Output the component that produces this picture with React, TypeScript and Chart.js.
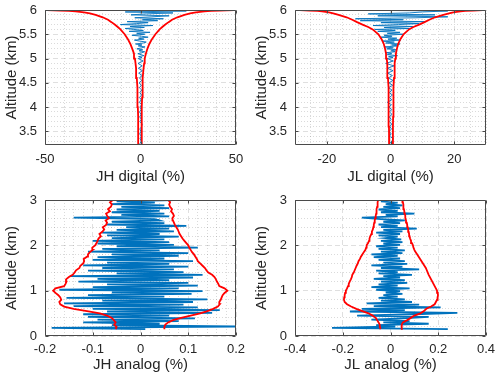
import React, { useEffect, useRef } from "react";
import { Chart, registerables } from "chart.js";

Chart.register(...registerables);

// ---------- Data ----------
// Altitude grid (km) for the digital channels (upper panels)
const ALT_HIGH = [
  3.2, 3.25, 3.3, 3.35, 3.4, 3.45, 3.5, 3.55, 3.6, 3.65,
  3.7, 3.75, 3.8, 3.85, 3.9, 3.95, 4.0, 4.05, 4.1, 4.15,
  4.2, 4.25, 4.3, 4.35, 4.4, 4.45, 4.5, 4.55, 4.6, 4.65,
  4.7, 4.75, 4.8, 4.85, 4.9, 4.95, 5.0,
  5.02, 5.04, 5.06, 5.08, 5.1, 5.12, 5.14, 5.16, 5.18, 5.2,
  5.22, 5.24, 5.26, 5.28, 5.3, 5.32, 5.34, 5.36, 5.38, 5.4,
  5.42, 5.44, 5.46, 5.48, 5.5, 5.52, 5.54, 5.56, 5.58, 5.6,
  5.62, 5.64, 5.66, 5.68, 5.7, 5.72, 5.74, 5.76, 5.78, 5.8,
  5.82, 5.84, 5.86, 5.88, 5.9, 5.92, 5.94, 5.96, 5.98, 6.0,
];

const JH_DIGITAL = [
  0.2, -0.3, 0.4, -0.2, 0.3, -0.4, 0.2, -0.3, 0.5, 0.9,
  -0.3, 0.4, -0.4, 0.3, -0.5, 0.4, -0.3, 0.5, -0.6, 0.4,
  -0.5, 0.6, -0.4, 0.7, -0.6, 0.5, -0.8, 0.7, -0.6, 0.9,
  -0.9, 1.0, -1.1, 0.9, -1.3, 1.4, -1.2,
  0.8, -1.0, 1.8, 0.3, -1.4, 0.6, 2.2, -0.8, 1.2, -1.9,
  0.5, 2.4, -1.2, 0.8, -2.6, 1.5, 3.0, -0.5, -3.2, 1.8,
  -1.0, 4.0, 0.6, -4.5, 2.2, -2.0, 5.0, -6.0, 1.5, -3.5,
  -8.0, 2.0, -5.5, 6.5, -10.5, -2.0, 4.0, -7.0, 9.0, 1.0,
  12.0, -3.0, 6.0, 15.0, -5.0, 3.0, 17.0, -8.0, 24.0, -10.0,
];

const JL_DIGITAL = [
  0.3, -0.2, 0.4, 0.9, -0.3, 0.2, -0.4, 0.3, -0.2, 0.4,
  -0.3, 0.2, -0.4, 0.5, -0.3, 0.4, -0.5, 0.3, -1.0, 0.4,
  -0.3, 0.6, -0.4, 0.5, -0.6, 0.7, -0.5, 0.8, -0.7, 0.6,
  -0.9, 0.8, -1.0, 1.1, -1.5, 0.9, -1.1,
  0.8, -0.6, 2.2, -1.0, 0.4, -1.4, 1.5, 0.2, 2.0, -1.2,
  0.9, -1.8, 2.4, 0.3, 3.0, -1.5, 1.2, -2.4, 3.2, -0.8,
  2.0, -3.0, 0.5, -2.0, 4.0, -1.0, 3.0, -4.0, 1.5, -5.0,
  6.0, -2.0, 7.0, -5.5, 2.5, 9.0, -3.0, 11.0, -9.5, 4.0,
  -11.0, 8.0, 18.0, -4.0, 14.0, -7.0, 6.0, 10.0, 18.0, -17.0,
];

// Envelope (red) altitudes for the digital channels
const ENV_ALT_HIGH = [
  3.2, 3.4, 3.6, 3.8, 4.0, 4.2, 4.4, 4.6, 4.8, 4.9,
  5.0, 5.1, 5.2, 5.3, 5.4, 5.5, 5.6, 5.65, 5.7, 5.75,
  5.8, 5.85, 5.9, 5.93, 5.95, 5.97, 5.98, 5.99, 6.0,
];
const JH_DIGITAL_LOW = [
  -1.1, -1.15, -1.2, -1.3, -1.4, -1.5, -1.7, -1.95, -2.3, -2.6,
  -2.9, -3.4, -4.3, -5.3, -6.6, -8.3, -10.5, -11.9, -13.5, -15.2,
  -17.0, -19.8, -23.5, -26.5, -29.5, -34.0, -37.5, -42.0, -49.0,
];
const JH_DIGITAL_UP = [
  0.55, 0.58, 0.62, 0.68, 0.75, 0.85, 1.0, 1.25, 1.6, 1.9,
  2.2, 2.8, 3.6, 4.6, 6.0, 7.8, 10.0, 11.4, 13.0, 14.7,
  16.5, 19.3, 23.0, 26.0, 29.0, 33.5, 37.0, 41.5, 49.0,
];
const JL_DIGITAL_LOW = [
  -0.42, -0.45, -0.48, -0.52, -0.56, -0.62, -0.7, -0.8, -0.95, -1.05,
  -1.2, -1.4, -1.7, -2.1, -2.8, -3.8, -5.6, -7.0, -8.8, -10.5,
  -12.0, -13.8, -16.3, -18.0, -19.3, -21.5, -23.0, -25.5, -28.5,
];
const JL_DIGITAL_UP = [
  0.72, 0.75, 0.78, 0.82, 0.86, 0.92, 1.0, 1.1, 1.25, 1.35,
  1.5, 1.7, 2.0, 2.4, 3.1, 4.1, 5.8, 7.2, 9.0, 10.7,
  12.2, 14.0, 16.6, 18.4, 19.7, 22.0, 23.5, 26.0, 29.0,
];

// Altitude grid (km) for the analog channels (lower panels)
const ALT_LOW = [
  0.15, 0.18, 0.21, 0.24, 0.27, 0.3, 0.33, 0.36, 0.39, 0.42,
  0.45, 0.48, 0.51, 0.54, 0.57, 0.6, 0.63, 0.66, 0.69, 0.72,
  0.75, 0.78, 0.81, 0.84, 0.87, 0.9, 0.93, 0.96, 0.99, 1.02,
  1.05, 1.08, 1.11, 1.14, 1.17, 1.2, 1.23, 1.26, 1.29, 1.32,
  1.35, 1.38, 1.41, 1.44, 1.47, 1.5, 1.53, 1.56, 1.59, 1.62,
  1.65, 1.68, 1.71, 1.74, 1.77, 1.8, 1.83, 1.86, 1.89, 1.92,
  1.95, 1.98, 2.01, 2.04, 2.07, 2.1, 2.13, 2.16, 2.19, 2.22,
  2.25, 2.28, 2.31, 2.34, 2.37, 2.4, 2.43, 2.46, 2.49, 2.52,
  2.55, 2.58, 2.61, 2.64, 2.67, 2.7, 2.73, 2.76, 2.79, 2.82,
  2.85, 2.88, 2.91, 2.94, 2.97, 3.0,
];

const JH_ANALOG = [
  0.01, -0.186, 0.198, -0.06, 0.04, -0.12, 0.08, -0.09, 0.114, -0.11,
  0.06, -0.12, 0.15, -0.07, 0.166, -0.1, 0.12, -0.14, 0.09, -0.16,
  0.11, -0.08, 0.14, -0.155, 0.05, -0.11, 0.107, -0.06, 0.13, -0.17,
  0.08, -0.1, 0.12, -0.07, 0.1, -0.13, 0.06, -0.09, 0.11, -0.148,
  0.13, -0.05, 0.09, -0.11, 0.07, -0.08, 0.1, -0.12, 0.06, -0.07,
  0.11, -0.1, 0.05, -0.09, 0.08, -0.06, 0.1, -0.11, 0.04, -0.08,
  0.12, -0.05, 0.07, -0.09, 0.06, -0.1, 0.05, -0.06, 0.08, -0.07,
  0.04, -0.08, 0.07, -0.05, 0.06, -0.03, 0.096, -0.07, 0.05, -0.06,
  0.04, 0.03, -0.14, 0.06, -0.04, 0.05, -0.06, 0.04, -0.05, 0.06,
  -0.04, 0.05, -0.06, 0.03, -0.05, 0.07,
];

const JL_ANALOG = [
  0.24, -0.245, 0.02, -0.06, 0.16, -0.03, 0.08, -0.08, 0.05, 0.16,
  -0.14, 0.1, 0.28, -0.17, 0.06, -0.12, 0.21, -0.07, 0.12, -0.1,
  0.09, -0.04, 0.06, -0.05, 0.03, -0.03, 0.05, -0.02, 0.04, -0.06,
  0.08, -0.08, 0.03, -0.05, 0.07, -0.04, 0.06, -0.07, 0.04, -0.03,
  0.09, -0.05, 0.03, -0.06, 0.12, -0.04, 0.05, -0.08, 0.07, -0.03,
  0.06, -0.05, 0.04, -0.07, 0.03, -0.08, 0.05, -0.04, 0.06, -0.05,
  0.03, -0.06, 0.04, -0.03, 0.05, -0.04, 0.045, -0.02, 0.03, -0.05,
  0.04, -0.06, 0.05, -0.03, 0.11, -0.04, 0.03, -0.05, 0.04, -0.03,
  0.06, -0.04, -0.12, 0.03, -0.02, 0.1, -0.04, 0.03, -0.05, 0.04,
  -0.03, 0.05, -0.02, 0.03, -0.04, 0.02,
];

// Envelope (red) altitudes for the analog channels
const ENV_ALT_LOW = [
  0.15, 0.2, 0.25, 0.3, 0.35, 0.4, 0.45, 0.5, 0.55, 0.6,
  0.65, 0.7, 0.75, 0.8, 0.85, 0.9, 0.95, 1.0, 1.05, 1.1,
  1.15, 1.2, 1.25, 1.3, 1.35, 1.4, 1.45, 1.5, 1.55, 1.6,
  1.65, 1.7, 1.75, 1.8, 1.85, 1.9, 1.95, 2.0, 2.05, 2.1,
  2.15, 2.2, 2.25, 2.3, 2.35, 2.4, 2.45, 2.5, 2.55, 2.6,
  2.65, 2.7, 2.75, 2.8, 2.85, 2.9, 2.95, 3.0,
];
const JH_ANALOG_LOW = [
  -0.052, -0.05, -0.055, -0.052, -0.056, -0.06, -0.07, -0.085, -0.112, -0.14,
  -0.16, -0.168, -0.17, -0.166, -0.168, -0.172, -0.178, -0.183, -0.178, -0.16,
  -0.157, -0.155, -0.156, -0.15, -0.142, -0.138, -0.135, -0.128, -0.126, -0.12,
  -0.118, -0.119, -0.112, -0.11, -0.106, -0.1, -0.101, -0.095, -0.092, -0.09,
  -0.088, -0.083, -0.086, -0.08, -0.076, -0.079, -0.072, -0.07, -0.073, -0.066,
  -0.07, -0.072, -0.064, -0.068, -0.062, -0.06, -0.064, -0.058,
];
const JH_ANALOG_UP = [
  0.05, 0.05, 0.052, 0.058, 0.068, 0.085, 0.105, 0.125, 0.14, 0.152,
  0.162, 0.166, 0.165, 0.168, 0.17, 0.172, 0.176, 0.182, 0.176, 0.165,
  0.163, 0.16, 0.158, 0.155, 0.15, 0.142, 0.138, 0.135, 0.13, 0.125,
  0.12, 0.118, 0.115, 0.112, 0.108, 0.105, 0.102, 0.1, 0.096, 0.092,
  0.088, 0.085, 0.082, 0.08, 0.078, 0.075, 0.072, 0.07, 0.068, 0.067,
  0.07, 0.068, 0.064, 0.066, 0.062, 0.06, 0.062, 0.058,
];
const JL_ANALOG_LOW = [
  -0.042, -0.044, -0.045, -0.05, -0.056, -0.062, -0.075, -0.092, -0.118, -0.143,
  -0.165, -0.182, -0.192, -0.195, -0.194, -0.192, -0.19, -0.187, -0.182, -0.178,
  -0.175, -0.171, -0.166, -0.162, -0.16, -0.154, -0.15, -0.146, -0.142, -0.137,
  -0.134, -0.128, -0.124, -0.118, -0.112, -0.105, -0.102, -0.1, -0.094, -0.09,
  -0.088, -0.085, -0.08, -0.078, -0.074, -0.072, -0.07, -0.068, -0.066, -0.064,
  -0.062, -0.06, -0.059, -0.058, -0.056, -0.055, -0.053, -0.052,
];
const JL_ANALOG_UP = [
  0.045, 0.046, 0.048, 0.052, 0.07, 0.085, 0.1, 0.125, 0.14, 0.15,
  0.17, 0.185, 0.19, 0.195, 0.197, 0.199, 0.198, 0.195, 0.19, 0.185,
  0.18, 0.175, 0.17, 0.165, 0.16, 0.156, 0.152, 0.148, 0.142, 0.136,
  0.13, 0.124, 0.118, 0.112, 0.105, 0.1, 0.096, 0.094, 0.09, 0.086,
  0.082, 0.08, 0.078, 0.076, 0.074, 0.072, 0.07, 0.068, 0.065, 0.062,
  0.062, 0.06, 0.058, 0.056, 0.055, 0.053, 0.052, 0.05,
];

// Tick labels / axis ranges
const X_TICKS_JH_DIGITAL = [-50, 0, 50];
const X_TICKS_JL_DIGITAL = [-20, 0, 20];
const X_TICKS_JH_ANALOG = [-0.2, -0.1, 0, 0.1, 0.2];
const X_TICKS_JL_ANALOG = [-0.4, -0.2, 0, 0.2, 0.4];
const Y_TICKS_HIGH = [3.5, 4, 4.5, 5, 5.5, 6];
const Y_TICKS_LOW = [0, 1, 2, 3];

const X_TITLES = ["JH digital (%)", "JL digital (%)", "JH analog (%)", "JL analog (%)"];
const Y_TITLE = "Altitude (km)";

// ---------- Styling ----------
const FONT = "'Liberation Sans', Arial, Helvetica, sans-serif";
const TEXT = "#262626";
const AXIS = "#4a4a4a";
const BLUE = "#0072BD";
const RED = "#FF0000";
const GRID_MAJOR = "rgba(38,38,38,0.15)";
const GRID_MINOR = "rgba(38,38,38,0.17)";

const near = (a: number, b: number) => Math.abs(a - b) < 1e-7;
const isMajor = (v: number, majors: number[]) => majors.some((m) => near(m, v));

function buildTicks(min: number, max: number, step: number, majors: number[]) {
  const out: number[] = [];
  const s = Math.ceil(min / step - 1e-7);
  const e = Math.floor(max / step + 1e-7);
  for (let k = s; k <= e; k++) out.push(Math.round(k * step * 1e9) / 1e9);
  majors.forEach((m) => {
    if (!out.some((v) => near(v, m))) out.push(m);
  });
  return out.sort((a, b) => a - b);
}

const boxPlugin = {
  id: "axesBox",
  afterDraw(chart: any, _args: any, opts: any) {
    const { ctx, chartArea: ca, scales } = chart;
    const l = Math.round(ca.left) + 0.5;
    const r = Math.round(ca.right) - 0.5;
    const t = Math.round(ca.top) + 0.5;
    const b = Math.round(ca.bottom) - 0.5;
    ctx.save();
    ctx.setLineDash([]);
    ctx.strokeStyle = AXIS;
    ctx.lineWidth = 1;
    ctx.beginPath();
    ctx.rect(l, t, r - l, b - t);
    const len = 3;
    (opts.xMajor || []).forEach((v: number) => {
      const px = Math.round(scales.x.getPixelForValue(v)) + 0.5;
      ctx.moveTo(px, b);
      ctx.lineTo(px, b - len);
      ctx.moveTo(px, t);
      ctx.lineTo(px, t + len);
    });
    (opts.yMajor || []).forEach((v: number) => {
      const py = Math.round(scales.y.getPixelForValue(v)) + 0.5;
      ctx.moveTo(l, py);
      ctx.lineTo(l + len, py);
      ctx.moveTo(r, py);
      ctx.lineTo(r - len, py);
    });
    ctx.stroke();
    ctx.restore();
  },
};

type PanelProps = {
  alt: number[];
  values: number[];
  envAlt: number[];
  envLow: number[];
  envUp: number[];
  xMin: number;
  xMax: number;
  xMajor: number[];
  xMinor: number;
  yMin: number;
  yMax: number;
  yMajor: number[];
  yMinor: number;
  xTitle: string;
  left: number;
  top: number;
  height: number;
  xAxisHeight: number;
  tickPad: number;
  titlePad: number;
  blueWidth: number;
};

function Panel(p: PanelProps) {
  const ref = useRef<HTMLCanvasElement | null>(null);

  useEffect(() => {
    if (!ref.current) return;
    const xTicks = buildTicks(p.xMin, p.xMax, p.xMinor, p.xMajor);
    const yTicks = buildTicks(p.yMin, p.yMax, p.yMinor, p.yMajor);

    const blue = p.alt.map((a, i) => ({ x: p.values[i], y: a }));
    const low = p.envAlt.map((a, i) => ({ x: p.envLow[i], y: a }));
    const up = p.envAlt.map((a, i) => ({ x: p.envUp[i], y: a }));

    const lineDs = (data: any[], color: string, width: number, order: number) => ({
      data,
      borderColor: color,
      backgroundColor: color,
      borderWidth: width,
      pointRadius: 0,
      showLine: true,
      tension: 0,
      fill: false,
      order,
    });

    const chart = new Chart(ref.current, {
      type: "scatter",
      data: {
        datasets: [
          lineDs(blue, BLUE, p.blueWidth, 2),
          lineDs(low, RED, 1.8, 1),
          lineDs(up, RED, 1.8, 1),
        ],
      },
      plugins: [boxPlugin],
      options: {
        animation: false,
        responsive: false,
        maintainAspectRatio: false,
        devicePixelRatio: 1,
        events: [],
        layout: { padding: { left: 0, right: 14, top: 10, bottom: 0 } },
        plugins: {
          legend: { display: false },
          tooltip: { enabled: false },
          axesBox: { xMajor: p.xMajor, yMajor: p.yMajor },
        } as any,
        scales: {
          x: {
            type: "linear",
            min: p.xMin,
            max: p.xMax,
            afterBuildTicks: (scale: any) => {
              scale.ticks = xTicks.map((v) => ({ value: v }));
            },
            afterFit: (scale: any) => {
              scale.height = p.xAxisHeight;
              scale.paddingLeft = 0;
              scale.paddingRight = 0;
            },
            ticks: {
              autoSkip: false,
              maxRotation: 0,
              minRotation: 0,
              padding: p.tickPad,
              color: TEXT,
              font: { family: FONT, size: 13 },
              callback: (v: any) => (isMajor(Number(v), p.xMajor) ? String(Number(v)) : ""),
            },
            grid: {
              drawTicks: false,
              lineWidth: 1,
              color: (c: any) =>
                c.tick && isMajor(c.tick.value, p.xMajor) ? GRID_MAJOR : GRID_MINOR,
            },
            border: {
              display: false,
              dash: (c: any) =>
                c.tick && isMajor(c.tick.value, p.xMajor) ? [5, 3] : [1, 2],
            },
            title: {
              display: true,
              text: p.xTitle,
              color: TEXT,
              font: { family: FONT, size: 15 },
              padding: { top: 0, bottom: p.titlePad },
            },
          },
          y: {
            type: "linear",
            min: p.yMin,
            max: p.yMax,
            afterBuildTicks: (scale: any) => {
              scale.ticks = yTicks.map((v) => ({ value: v }));
            },
            afterFit: (scale: any) => {
              scale.width = 45;
              scale.paddingTop = 0;
              scale.paddingBottom = 0;
            },
            ticks: {
              autoSkip: false,
              padding: 8,
              color: TEXT,
              font: { family: FONT, size: 13 },
              callback: (v: any) => (isMajor(Number(v), p.yMajor) ? String(Number(v)) : ""),
            },
            grid: {
              drawTicks: false,
              lineWidth: 1,
              color: (c: any) =>
                c.tick && isMajor(c.tick.value, p.yMajor) ? GRID_MAJOR : GRID_MINOR,
            },
            border: {
              display: false,
              dash: (c: any) =>
                c.tick && isMajor(c.tick.value, p.yMajor) ? [5, 3] : [1, 2],
            },
            title: {
              display: true,
              text: Y_TITLE,
              color: TEXT,
              font: { family: FONT, size: 15 },
              padding: { top: 3, bottom: 0 },
            },
          },
        },
      } as any,
    });
    return () => chart.destroy();
  }, []);

  return (
    <canvas
      ref={ref}
      width={250}
      height={p.height}
      style={{ position: "absolute", left: p.left, top: p.top, width: 250, height: p.height }}
    />
  );
}

export default function App() {
  return (
    <div
      style={{
        position: "absolute",
        left: 0,
        top: 0,
        width: 500,
        height: 379,
        overflow: "hidden",
        background: "#ffffff",
      }}
    >
      <Panel
        alt={ALT_HIGH}
        values={JH_DIGITAL}
        envAlt={ENV_ALT_HIGH}
        envLow={JH_DIGITAL_LOW}
        envUp={JH_DIGITAL_UP}
        xMin={-50}
        xMax={50}
        xMajor={X_TICKS_JH_DIGITAL}
        xMinor={10}
        yMin={3.22}
        yMax={6}
        yMajor={Y_TICKS_HIGH}
        yMinor={0.1}
        xTitle={X_TITLES[0]}
        left={0}
        top={0}
        height={190}
        xAxisHeight={45}
        tickPad={7}
        titlePad={4}
        blueWidth={0.9}
      />
      <Panel
        alt={ALT_HIGH}
        values={JL_DIGITAL}
        envAlt={ENV_ALT_HIGH}
        envLow={JL_DIGITAL_LOW}
        envUp={JL_DIGITAL_UP}
        xMin={-30}
        xMax={30}
        xMajor={X_TICKS_JL_DIGITAL}
        xMinor={5}
        yMin={3.22}
        yMax={6}
        yMajor={Y_TICKS_HIGH}
        yMinor={0.1}
        xTitle={X_TITLES[1]}
        left={250}
        top={0}
        height={190}
        xAxisHeight={45}
        tickPad={7}
        titlePad={4}
        blueWidth={0.9}
      />
      <Panel
        alt={ALT_LOW}
        values={JH_ANALOG}
        envAlt={ENV_ALT_LOW}
        envLow={JH_ANALOG_LOW}
        envUp={JH_ANALOG_UP}
        xMin={-0.2}
        xMax={0.2}
        xMajor={X_TICKS_JH_ANALOG}
        xMinor={0.02}
        yMin={0}
        yMax={3}
        yMajor={Y_TICKS_LOW}
        yMinor={0.2}
        xTitle={X_TITLES[2]}
        left={0}
        top={190}
        height={189}
        xAxisHeight={43}
        tickPad={6}
        titlePad={5}
        blueWidth={1.8}
      />
      <Panel
        alt={ALT_LOW}
        values={JL_ANALOG}
        envAlt={ENV_ALT_LOW}
        envLow={JL_ANALOG_LOW}
        envUp={JL_ANALOG_UP}
        xMin={-0.4}
        xMax={0.4}
        xMajor={X_TICKS_JL_ANALOG}
        xMinor={0.1}
        yMin={0}
        yMax={3}
        yMajor={Y_TICKS_LOW}
        yMinor={0.2}
        xTitle={X_TITLES[3]}
        left={250}
        top={190}
        height={189}
        xAxisHeight={43}
        tickPad={6}
        titlePad={5}
        blueWidth={1.8}
      />
    </div>
  );
}
